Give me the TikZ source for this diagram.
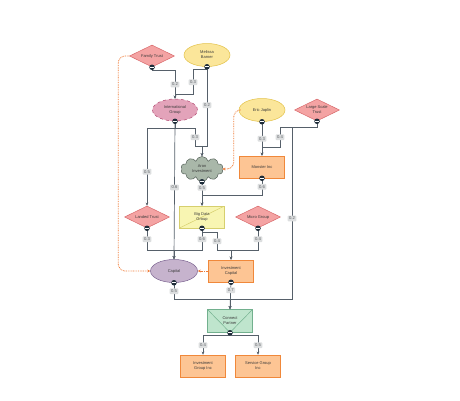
\documentclass[tikz,border=0pt]{standalone}
\usepackage{fontspec}
\setmainfont{Liberation Sans}
\usepackage{tikz}
\usetikzlibrary{shapes.geometric,shapes.symbols,arrows.meta}

\definecolor{trustfill}{HTML}{F4A3A3}
\definecolor{trustline}{HTML}{D9696B}
\definecolor{personfill}{HTML}{FBE69A}
\definecolor{personline}{HTML}{E3C24A}
\definecolor{groupfill}{HTML}{E3A3BA}
\definecolor{groupline}{HTML}{B0466F}
\definecolor{cloudfill}{HTML}{A9B7A9}
\definecolor{cloudline}{HTML}{56625A}
\definecolor{firmfill}{HTML}{FDC594}
\definecolor{firmline}{HTML}{F0883A}
\definecolor{datafill}{HTML}{F8F5B2}
\definecolor{dataline}{HTML}{D6CF6E}
\definecolor{capfill}{HTML}{C6B3CD}
\definecolor{capline}{HTML}{7B6390}
\definecolor{mailfill}{HTML}{BFE5CD}
\definecolor{mailline}{HTML}{72B08E}
\definecolor{linkline}{HTML}{56606A}
\definecolor{portfill}{HTML}{1F2D3A}
\definecolor{dotline}{HTML}{F07A36}
\definecolor{tagfill}{HTML}{DCDEDF}
\definecolor{tagtext}{HTML}{5E6266}
\definecolor{inktext}{HTML}{3A3A3A}

\begin{document}
\begin{tikzpicture}
[
    x = 1pt, y = -1pt,
    every node/.style = {font = \fontsize{4}{4.9}\selectfont, text = inktext, align = center, inner sep = 0pt},
    trust/.style = {diamond, aspect = 2, minimum width = 45, minimum height = 22, fill = trustfill, draw = trustline, line width = 0.5pt},
    person/.style = {ellipse, minimum width = 46, minimum height = 23, fill = personfill, draw = personline, line width = 0.5pt},
    group/.style = {ellipse, minimum width = 45, minimum height = 22, fill = groupfill, draw = groupline, dashed, line width = 0.5pt},
    fund/.style = {cloud, cloud puffs = 10, aspect = 1.8, minimum width = 42, minimum height = 25, fill = cloudfill, draw = cloudline, line width = 0.5pt},
    firm/.style = {rectangle, minimum width = 45, minimum height = 22, fill = firmfill, draw = firmline, line width = 0.5pt},
    databox/.style = {rectangle, minimum width = 45, minimum height = 22, fill = datafill, draw = dataline, line width = 0.5pt,
        path picture = {\draw[dataline, line width = 0.5pt] (path picture bounding box.south west) -- (path picture bounding box.north east);}},
    capital/.style = {ellipse, minimum width = 47, minimum height = 23, fill = capfill, draw = capline, line width = 0.5pt},
    mailbox/.style = {rectangle, minimum width = 45, minimum height = 23, fill = mailfill, draw = mailline, line width = 0.5pt,
        path picture = {\draw[mailline, line width = 0.5pt] (path picture bounding box.north west) -- (path picture bounding box.south) -- (path picture bounding box.north east);}},
    edge/.style = {draw = linkline, line width = 0.7pt, -{Stealth[length = 3.2pt, width = 2.8pt]}},
    dotlink/.style = {draw = dotline, dash pattern = on 0.8pt off 0.9pt, line width = 0.8pt, rounded corners = 7pt, -{Stealth[length = 3pt, width = 2.8pt]}},
    tag/.style = {fill = tagfill, rounded corners = 0.8pt, inner xsep = 1.4pt, inner ysep = 1.4pt, font = \fontsize{4.2}{4.5}\selectfont, text = tagtext},
    port/.style = {circle, fill = portfill, minimum size = 5.5pt, inner sep = 0pt,
        path picture = {\draw[white, line width = 0.6pt] ([xshift = -1.9pt]path picture bounding box.center) -- ([xshift = 1.9pt]path picture bounding box.center);}},
]
\fill[white] (0,0) rectangle (460,400);

% nodes
\node[trust] (ft) at (152,56) {Family Trust};
\node[person] (mb) at (207,55) {Melissa\\Barner};
\node[group] (ig) at (175,110) {International\\Group};
\node[person] (ej) at (262,110) {Eric Japlin};
\node[trust] (lst) at (317,110) {Large Scale\\Trust};
\node[fund] (ai) at (202,169) {Aron\\Investment};
\node[firm] (mi) at (262,167) {Monster Inc};
\node[trust] (lt) at (147,217) {Landed Trust};
\node[databox] (bdg) at (202,217) {Big Data\\Group};
\node[trust] (mg) at (258,217) {Micro Group};
\node[capital] (cap) at (174,271) {Capital};
\node[firm] (ic) at (231,271) {Investment\\Capital};
\node[mailbox] (cp) at (230,321) {Connect\\Partner};
\node[firm] (igi) at (203,366) {Investment\\Group Inc};
\node[firm] (sgi) at (258,366) {Service Group\\Inc};

% solid links
\draw[edge] (ft.south) -- ++(0,3) -| node[tag, pos = 0.75]{0.2} (ig.north);
\draw[edge] (mb.south) -- ++(0,3) -- ++(-14,0) -- node[tag]{0.3} ++(0,25) -| (ig.north);
\draw[edge] (mb.south) -- node[tag, pos = 0.48]{0.2} ++(0,80) -| (ai.north);
\draw[edge] (ig.south) -- ++(0,7) -- ++(20,0) -- node[tag]{0.3} ++(0,18) -| (ai.north);
\draw[edge] (ig.south) -- ++(0,7) -| node[tag, pos = 0.78]{0.5} (lt.north);
\draw[edge] (ig.south) -- node[tag, pos = 0.48]{0.6} (cap.north);
\draw[edge] (ej.south) -- node[tag]{0.3} (mi.north);
\draw[edge] (lst.south) -- ++(0,6) -- ++(-37,0) -- node[tag]{0.4} ++(0,20) -| (mi.north);
\draw[edge] (lst.south) -- ++(0,6) -- ++(-25,0) -- node[tag, pos = 0.53]{0.2} ++(0,172) -| (cp.north);
\draw[edge] (mi.south) -- node[tag]{0.6} ++(0,17) -| (bdg.north);
\draw[edge] (ai.south) -- node[tag, pos = 0.25]{0.5} (bdg.north);
\draw[edge] (lt.south) -- node[tag]{0.3} ++(0,22) -| (cap.north);
\draw[edge] (bdg.south) -- node[tag]{0.6} ++(0,22) -| (cap.north);
\draw[edge] (bdg.south) -- ++(0,4) -- ++(15,0) -- node[tag]{0.4} ++(0,18) -| (ic.north);
\draw[edge] (mg.south) -- node[tag]{0.4} ++(0,22) -| (ic.north);
\draw[edge] (cap.south) -- node[tag]{0.5} ++(0,17) -| (cp.north);
\draw[edge] (ic.south) -- node[tag, pos = 0.3]{0.7} (cp.north);
\draw[edge] (cp.south) -- ++(0,3) -| node[tag, pos = 0.75]{0.4} (igi.north);
\draw[edge] (cp.south) -- ++(0,3) -| node[tag, pos = 0.75]{0.5} (sgi.north);

% dotted links
\draw[dotlink] (ft.west) -- ++(-11,0) |- (cap.west);
\draw[dotlink] (ej.west) -- ++(-5,0) |- (ai.east);
\draw[dotlink] (ic.west) -- (cap.east);

% ports
\foreach \n in {ft,mb,ig,ej,lst,ai,mi,lt,bdg,mg,cap,ic,cp}
    \node[port] at (\n.south) {};
\end{tikzpicture}
\end{document}
